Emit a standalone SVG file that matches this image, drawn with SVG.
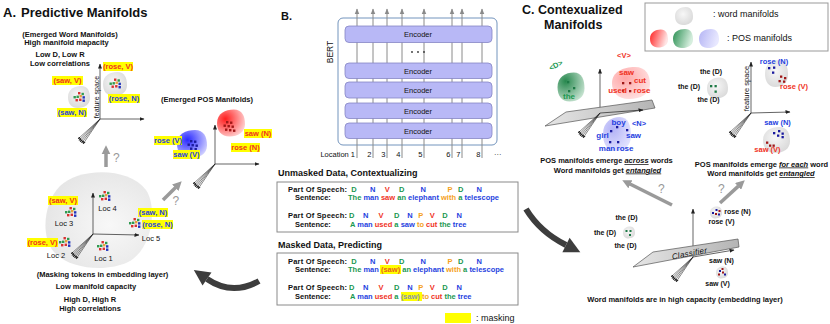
<svg xmlns="http://www.w3.org/2000/svg" xmlns:xlink="http://www.w3.org/1999/xlink" width="830" height="324" viewBox="0 0 830 324">
<defs>
<style>
text{font-family:"Liberation Sans",Arial,Helvetica,sans-serif;fill:#111}
.b{font-weight:bold}
.s7{font-size:7px}
.s75{font-size:7.5px}
.s8{font-size:8px}
.s9{font-size:9px}
.m{text-anchor:middle}
.e{text-anchor:end}
.R{fill:#f0321e}
.B{fill:#1f3fe0}
.G{fill:#1a9850}
.O{fill:#f5a11c}
.hl{fill:#ffff00}
.ax{stroke:#222;stroke-width:0.7;fill:none;marker-end:url(#ah)}
.q{fill:#999;font-size:12px}
.garr{stroke:#9a9a9a;stroke-width:3.5;fill:none;marker-end:url(#qa)}
.dk{stroke:#3d3d3d;stroke-width:6;fill:none}
.dkh{fill:#3d3d3d}
.loc{stroke:#8a8a8a;stroke-width:1;marker-end:url(#gh)}
.enc{fill:#b8b8f6;stroke:#8585c4;stroke-width:0.8}
.bx{fill:none;stroke:#8a8a8a;stroke-width:1}
.bl{stroke:#222;stroke-width:0.55;marker-end:url(#th)}
.dr{fill:#a01818}
.db{fill:#1a1a9e}
.dg{fill:#1e7a46}
.pl{fill:url(#gPlane);stroke:#555;stroke-width:0.7}
</style>
<marker id="ah" viewBox="0 0 10 10" refX="9" refY="5" markerWidth="5" markerHeight="5" markerUnits="userSpaceOnUse" orient="auto"><path d="M0,1 L10,5 L0,9 z" fill="#222"/></marker>
<marker id="gh" viewBox="0 0 10 10" refX="9" refY="5" markerWidth="6" markerHeight="6" markerUnits="userSpaceOnUse" orient="auto"><path d="M0,1 L10,5 L0,9 z" fill="#8a8a8a"/></marker>
<marker id="th" viewBox="0 0 10 10" refX="9" refY="5" markerWidth="3" markerHeight="3" markerUnits="userSpaceOnUse" orient="auto"><path d="M0,1 L10,5 L0,9 z" fill="#222"/></marker>
<marker id="qa" viewBox="0 0 10 10" refX="0.5" refY="5" markerWidth="2.6" markerHeight="2.6" orient="auto"><path d="M0,0 L10,5 L0,10 z" fill="#9a9a9a"/></marker>
<radialGradient id="gGray" cx="0.45" cy="0.4" r="0.65"><stop offset="0" stop-color="#f7f7f7"/><stop offset="1" stop-color="#d8d8d8"/></radialGradient>
<radialGradient id="gBig" cx="0.6" cy="0.55" r="0.6"><stop offset="0" stop-color="#f8f8f8"/><stop offset="1" stop-color="#e6e6e6"/></radialGradient>
<radialGradient id="gRed" cx="0.3" cy="0.35" r="0.8"><stop offset="0" stop-color="#ff1e1e"/><stop offset="1" stop-color="#ffdede"/></radialGradient>
<radialGradient id="gBlue" cx="0.35" cy="0.35" r="0.8"><stop offset="0" stop-color="#2a2aff"/><stop offset="1" stop-color="#e2e2ff"/></radialGradient>
<linearGradient id="lRed" x1="0" y1="0" x2="1" y2="0.3"><stop offset="0" stop-color="#ff2020"/><stop offset="1" stop-color="#ffe4e4"/></linearGradient>
<linearGradient id="lGreen" x1="0" y1="0" x2="1" y2="0.3"><stop offset="0" stop-color="#2a8f52"/><stop offset="1" stop-color="#d6eede"/></linearGradient>
<linearGradient id="lLav" x1="0" y1="0" x2="1" y2="0.3"><stop offset="0" stop-color="#b4b4f4"/><stop offset="1" stop-color="#e8e8ff"/></linearGradient>
<radialGradient id="gGreen" cx="0.3" cy="0.3" r="0.85"><stop offset="0" stop-color="#27884e"/><stop offset="1" stop-color="#d2e9da"/></radialGradient>
<radialGradient id="gPink" cx="0.35" cy="0.35" r="0.8"><stop offset="0" stop-color="#ffa6a6"/><stop offset="1" stop-color="#ffe8e8"/></radialGradient>
<radialGradient id="gLav" cx="0.35" cy="0.35" r="0.8"><stop offset="0" stop-color="#b2b2f6"/><stop offset="1" stop-color="#e8e8ff"/></radialGradient>
<linearGradient id="gPlane" x1="0" y1="0" x2="1" y2="0"><stop offset="0" stop-color="#e6e6e6"/><stop offset="1" stop-color="#b4b4b4"/></linearGradient>
<path id="blob" d="M-10,0 C-10,-7 -4,-10 2,-10 C8,-10 10,-5 10,1 C10,7 5,10 -1,10 C-7,10 -10,6 -10,0 Z"/>
<g id="cl">
<rect x="4.5" y="0" width="2.4" height="2.4" fill="#d83030"/>
<rect x="8" y="0.8" width="2.4" height="2.4" fill="#2f9a4f"/>
<rect x="0" y="4" width="2.4" height="2.4" fill="#2f9a4f"/>
<rect x="3" y="3.6" width="2.4" height="2.4" fill="#2f9a4f"/>
<rect x="6" y="3" width="2.4" height="2.4" fill="#e8a03c"/>
<rect x="9" y="4.2" width="2.4" height="2.4" fill="#2233bb"/>
<rect x="2" y="7" width="2.4" height="2.4" fill="#d83030"/>
<rect x="9" y="7.5" width="2.4" height="2.4" fill="#2233bb"/>
<rect x="5.6" y="6.6" width="2.4" height="2.4" fill="#d83030"/>
</g>
<g id="bun">
<line x1="0" y1="0" x2="-22" y2="20" class="bl"/>
<line x1="0" y1="0" x2="-21" y2="21.5" class="bl"/>
<line x1="0" y1="0" x2="-20" y2="23" class="bl"/>
<line x1="0" y1="0" x2="-18.5" y2="24" class="bl"/>
<line x1="0" y1="0" x2="-17" y2="25" class="bl"/>
</g>
</defs>
<rect width="830" height="324" fill="#fff"/>

<!-- ============ PANEL A ============ -->
<g id="titleA">
<text x="3" y="17" class="b" font-size="13">A.</text>
<text x="21" y="17" class="b" font-size="13">Predictive Manifolds</text>
</g>

<g id="wordManifolds">
<text x="70" y="36.5" class="b s75 m">(Emerged Word Manifolds)</text>
<text x="66.5" y="45" class="b s75 m">High manifold mapacity</text>
<text x="60" y="57" class="b s75 m">Low D, Low R</text>
<text x="60" y="66" class="b s75 m">Low correlations</text>
<use href="#blob" transform="translate(115,84) scale(1.2)" fill="url(#gGray)"/>
<use href="#blob" transform="translate(79,97) scale(1.1)" fill="url(#gGray)"/>
<use href="#cl" x="109.5" y="78.5"/>
<use href="#cl" x="73.5" y="92"/>
<line x1="100" y1="119" x2="100" y2="64" class="ax"/>
<line x1="100" y1="119" x2="144" y2="119" class="ax"/>
<use href="#bun" x="100" y="119"/>
<text transform="translate(99,97) rotate(-90)" class="s7 m">feature space</text>
<rect x="103" y="62" width="30" height="9" class="hl"/><text x="118" y="69" class="b s75 m R">(rose, V)</text>
<rect x="108" y="94" width="32" height="9" class="hl"/><text x="124" y="101" class="b s75 m B">(rose, N)</text>
<rect x="52" y="76" width="31" height="9" class="hl"/><text x="67.5" y="83" class="b s75 m R">(saw, V)</text>
<rect x="57" y="108" width="30" height="9" class="hl"/><text x="72" y="115" class="b s75 m B">(saw, N)</text>
</g>

<g id="posManifolds">
<text x="207" y="101.5" class="b s75 m">(Emerged POS Manifolds)</text>
<use href="#blob" transform="translate(231,123) scale(1.4,1.35)" fill="url(#gRed)"/>
<use href="#blob" transform="translate(192,144) scale(1.5,1.4)" fill="url(#gBlue)"/>
<g class="dr">
<rect x="226" y="121" width="2.4" height="2.4"/><rect x="230" y="121.5" width="2.4" height="2.4"/>
<rect x="223.5" y="124.5" width="2.4" height="2.4"/><rect x="227.5" y="125" width="2.4" height="2.4"/>
<rect x="231.5" y="125.5" width="2.4" height="2.4"/><rect x="225" y="128.5" width="2.4" height="2.4"/>
<rect x="229" y="129" width="2.4" height="2.4"/><rect x="233" y="129.5" width="2.4" height="2.4"/>
</g>
<g class="db">
<rect x="190" y="140" width="2.4" height="2.4"/><rect x="194" y="140.5" width="2.4" height="2.4"/>
<rect x="187.5" y="143.5" width="2.4" height="2.4"/><rect x="191.5" y="144" width="2.4" height="2.4"/>
<rect x="195.5" y="144.5" width="2.4" height="2.4"/><rect x="190" y="147.5" width="2.4" height="2.4"/>
<rect x="194.5" y="148" width="2.4" height="2.4"/>
</g>
<line x1="215" y1="164" x2="215" y2="125" class="ax"/>
<line x1="215" y1="164" x2="259" y2="164" class="ax"/>
<use href="#bun" x="215" y="164"/>
<rect x="244" y="129" width="28" height="9" class="hl"/><text x="258" y="136" class="b s75 m R">saw (N)</text>
<rect x="231" y="143" width="29" height="9" class="hl"/><text x="245.5" y="150" class="b s75 m R">rose (N)</text>
<rect x="154" y="136" width="28" height="9" class="hl"/><text x="168" y="143" class="b s75 m B">rose (V)</text>
<rect x="173" y="150" width="27" height="9" class="hl"/><text x="186.5" y="157" class="b s75 m B">saw (V)</text>
</g>

<g id="embeddingManifolds">
<path d="M60,186 C78,168 128,166 146,190 C158,208 152,250 128,262 C108,272 70,270 54,252 C40,236 44,202 60,186 Z" fill="url(#gBig)"/>
<line x1="93" y1="234" x2="93" y2="193" class="ax"/>
<line x1="93" y1="234" x2="139" y2="235" class="ax"/>
<use href="#bun" x="93" y="234"/>
<use href="#cl" x="99" y="191"/>
<use href="#cl" x="65" y="207"/>
<use href="#cl" x="59" y="237"/>
<use href="#cl" x="97" y="241"/>
<use href="#cl" x="129" y="218"/>
<text x="107.5" y="210.5" class="s75 m">Loc 4</text>
<text x="64" y="226" class="s75 m">Loc 3</text>
<text x="56" y="257.5" class="s75 m">Loc 2</text>
<text x="103.5" y="260.5" class="s75 m">Loc 1</text>
<text x="151" y="241" class="s75 m">Loc 5</text>
<rect x="48" y="196" width="30" height="9" class="hl"/><text x="63" y="203" class="b s75 m R">(saw, V)</text>
<rect x="27" y="238" width="31" height="9" class="hl"/><text x="42.5" y="245" class="b s75 m R">(rose, V)</text>
<rect x="138" y="208" width="30" height="9" class="hl"/><text x="153" y="215" class="b s75 m B">(saw, N)</text>
<rect x="142" y="220" width="31" height="9" class="hl"/><text x="157.5" y="227" class="b s75 m B">(rose, N)</text>
<text x="102.5" y="276.5" class="b s75 m">(Masking tokens in embedding layer)</text>
<text x="96" y="289" class="b s75 m">Low manifold capacity</text>
<text x="90" y="301.5" class="b s75 m">High D, High R</text>
<text x="90" y="311" class="b s75 m">High correlations</text>
</g>

<!-- ============ PANEL B ============ -->
<g id="titleB"><text x="281" y="20" class="b" font-size="11">B.</text></g>

<g id="bert">
<rect x="338" y="18" width="159" height="127" rx="5" fill="#fff" stroke="#7394bd" stroke-width="1"/>
<text transform="translate(333,52) rotate(-90)" class="m" font-size="8.5">BERT</text>
<g>
<line x1="357" y1="158" x2="357" y2="9" class="loc"/>
<line x1="373" y1="158" x2="373" y2="9" class="loc"/>
<line x1="387" y1="158" x2="387" y2="9" class="loc"/>
<line x1="402" y1="158" x2="402" y2="9" class="loc"/>
<line x1="424" y1="158" x2="424" y2="9" class="loc"/>
<line x1="452" y1="158" x2="452" y2="9" class="loc"/>
<line x1="462" y1="158" x2="462" y2="9" class="loc"/>
<line x1="482" y1="158" x2="482" y2="9" class="loc"/>
</g>
<g id="enc1"><rect x="345" y="26" width="147" height="16.5" rx="4" class="enc"/><text x="418" y="37" class="s75 m" fill="#333">Encoder</text></g>
<g id="dots"><circle cx="412" cy="52" r="0.9" fill="#333"/><circle cx="418" cy="52" r="0.9" fill="#333"/><circle cx="424" cy="52" r="0.9" fill="#333"/></g>
<g id="enc2"><rect x="345" y="63" width="147" height="15.5" rx="4" class="enc"/><text x="418" y="73.5" class="s75 m" fill="#333">Encoder</text></g>
<g id="enc3"><rect x="345" y="82" width="147" height="16" rx="4" class="enc"/><text x="418" y="92.5" class="s75 m" fill="#333">Encoder</text></g>
<g id="enc4"><rect x="345" y="103" width="147" height="15.5" rx="4" class="enc"/><text x="418" y="113.5" class="s75 m" fill="#333">Encoder</text></g>
<g id="enc5"><rect x="345" y="123" width="147" height="15.5" rx="4" class="enc"/><text x="418" y="133.5" class="s75 m" fill="#333">Encoder</text></g>
<g class="s75" fill="#333">
<text x="355" y="156.5" class="s75 e">Location 1</text>
<text x="371.5" y="156.5" class="s75 e">2</text>
<text x="385.5" y="156.5" class="s75 e">3</text>
<text x="400.5" y="156.5" class="s75 e">4</text>
<text x="422.5" y="156.5" class="s75 e">5</text>
<text x="450.5" y="156.5" class="s75 e">6</text>
<text x="460.5" y="156.5" class="s75 e">7</text>
<text x="480.5" y="156.5" class="s75 e">8</text>
<text x="494" y="156.5" class="s75">···</text>
</g>
</g>

<g id="unmaskedData">
<text x="278" y="175.5" class="b s9">Unmasked Data, Contextualizing</text>
<rect x="277" y="182" width="241" height="50" class="bx"/>
<text x="288" y="191.5" class="b s75" textLength="59" lengthAdjust="spacing">Part Of Speech:</text>
<g class="b s75 m">
<text x="354" y="191.5" class="G">D</text><text x="372.7" y="191.5" class="B">N</text><text x="387.3" y="191.5" class="R">V</text><text x="401.7" y="191.5" class="G">D</text><text x="423.3" y="191.5" class="B">N</text><text x="450" y="191.5" class="O">P</text><text x="460.7" y="191.5" class="G">D</text><text x="479.3" y="191.5" class="B">N</text>
</g>
<text x="295" y="199.5" class="b s75">Sentence:</text>
<text x="348" y="199.5" class="b s75"><tspan class="G">The</tspan> <tspan class="B">man</tspan> <tspan class="R">saw</tspan> <tspan class="G">an</tspan> <tspan class="B">elephant</tspan> <tspan class="O">with</tspan> <tspan class="G">a</tspan> <tspan class="B">telescope</tspan></text>
<text x="288" y="218" class="b s75" textLength="59" lengthAdjust="spacing">Part Of Speech:</text>
<g class="b s75 m">
<text x="351.7" y="218" class="G">D</text><text x="365.7" y="218" class="B">N</text><text x="381" y="218" class="R">V</text><text x="396.7" y="218" class="G">D</text><text x="410" y="218" class="B">N</text><text x="420.7" y="218" class="O">P</text><text x="432.3" y="218" class="R">V</text><text x="445" y="218" class="G">D</text><text x="459.3" y="218" class="B">N</text>
</g>
<text x="295" y="226.5" class="b s75">Sentence:</text>
<text x="350" y="226.5" class="b s75"><tspan class="G">A</tspan> <tspan class="B">man</tspan> <tspan class="R">used</tspan> <tspan class="G">a</tspan> <tspan class="B">saw</tspan> <tspan class="O">to</tspan> <tspan class="R">cut</tspan> <tspan class="G">the</tspan> <tspan class="B">tree</tspan></text>
</g>

<g id="maskedData">
<text x="278" y="247.5" class="b s9">Masked Data, Predicting</text>
<rect x="277" y="253" width="241" height="52" class="bx"/>
<rect x="380" y="265" width="21" height="9" class="hl"/>
<rect x="401" y="292" width="21" height="9" class="hl"/>
<text x="288" y="263.5" class="b s75" textLength="59" lengthAdjust="spacing">Part Of Speech:</text>
<g class="b s75 m">
<text x="354" y="263.5" class="G">D</text><text x="372.7" y="263.5" class="B">N</text><text x="387.3" y="263.5" class="R">V</text><text x="401.7" y="263.5" class="G">D</text><text x="423.3" y="263.5" class="B">N</text><text x="450" y="263.5" class="O">P</text><text x="460.7" y="263.5" class="G">D</text><text x="479.3" y="263.5" class="B">N</text>
</g>
<text x="295" y="271.5" class="b s75">Sentence:</text>
<text x="348" y="271.5" class="b s75"><tspan class="G">The</tspan> <tspan class="B">man</tspan> <tspan fill="#e8601c">(saw)</tspan> <tspan class="G">an</tspan> <tspan class="B">elephant</tspan> <tspan class="O">with</tspan> <tspan class="G">a</tspan> <tspan class="B">telescope</tspan></text>
<text x="288" y="290" class="b s75" textLength="59" lengthAdjust="spacing">Part Of Speech:</text>
<g class="b s75 m">
<text x="351.7" y="290" class="G">D</text><text x="365.7" y="290" class="B">N</text><text x="381" y="290" class="R">V</text><text x="396.7" y="290" class="G">D</text><text x="410" y="290" class="B">N</text><text x="420.7" y="290" class="O">P</text><text x="432.3" y="290" class="R">V</text><text x="445" y="290" class="G">D</text><text x="459.3" y="290" class="B">N</text>
</g>
<text x="295" y="298.5" class="b s75">Sentence:</text>
<text x="350" y="298.5" class="b s75"><tspan class="G">A</tspan> <tspan class="B">man</tspan> <tspan class="R">used</tspan> <tspan class="G">a</tspan> <tspan fill="#8a9aae">(saw)</tspan> <tspan class="O">to</tspan> <tspan class="R">cut</tspan> <tspan class="G">the</tspan> <tspan class="B">tree</tspan></text>
</g>

<g id="maskLegend">
<rect x="445" y="313" width="26" height="10" class="hl"/>
<text x="476" y="320.5" class="s9">: masking</text>
</g>

<!-- ============ PANEL C ============ -->
<g id="titleC">
<text x="522" y="13.5" class="b" font-size="12.5">C. Contexualized</text>
<text x="544" y="29" class="b" font-size="12.5">Manifolds</text>
</g>

<g id="legendC">
<rect x="645" y="3" width="183" height="48" fill="#fff" stroke="#999" stroke-width="1"/>
<use href="#blob" transform="translate(684,16) scale(0.9)" fill="url(#gGray)"/>
<text x="713" y="17" class="s9">: word manifolds</text>
<use href="#blob" transform="translate(659,38.5) scale(0.9)" fill="url(#lRed)"/>
<use href="#blob" transform="translate(683,38.5) scale(1,0.95)" fill="url(#lGreen)"/>
<use href="#blob" transform="translate(709,38.5) scale(1,0.95)" fill="url(#lLav)"/>
<text x="727" y="40.5" class="s9">: POS manifolds</text>
</g>

<g id="contextAcross">
<use href="#blob" transform="translate(571,87) scale(1.35,1.45)" fill="url(#gGreen)"/>
<use href="#blob" transform="translate(631,83) scale(1.9,1.6)" fill="url(#gPink)"/>
<line x1="600" y1="113" x2="600" y2="69" class="ax"/>
<polygon points="545,126 566,112 652,100 655,108" class="pl"/>
<line x1="600" y1="113" x2="643" y2="110" class="ax"/>
<use href="#bun" x="600" y="113"/>
<use href="#blob" transform="translate(617,134) scale(1.4,1.7)" fill="url(#gLav)"/>
<g class="dg"><rect x="567" y="81" width="2.3" height="2.3"/><rect x="573" y="87" width="2.3" height="2.3"/><rect x="568" y="90" width="2.3" height="2.3"/></g>
<g class="dr"><rect x="622" y="82" width="2.3" height="2.3"/><rect x="629" y="82" width="2.3" height="2.3"/><rect x="622" y="89.5" width="2.3" height="2.3"/><rect x="629" y="90" width="2.3" height="2.3"/></g>
<g class="db"><rect x="616" y="126" width="2.3" height="2.3"/><rect x="610" y="130" width="2.3" height="2.3"/><rect x="626" y="129" width="2.3" height="2.3"/><rect x="609" y="141" width="2.3" height="2.3"/><rect x="617" y="141" width="2.3" height="2.3"/></g>
<text transform="translate(557,67.5) rotate(-28)" class="b s75 m G">&lt;D&gt;</text>
<text x="569" y="99" class="b s8 m G">the</text>
<text x="624" y="57.5" class="b s75 m R">&lt;V&gt;</text>
<text x="626.5" y="75" class="b s8 m R">saw</text>
<text x="640" y="83" class="b s8 m R">cut</text>
<text x="617.5" y="93" class="b s8 m R">used</text>
<text x="642" y="93" class="b s8 m R">rose</text>
<text x="639" y="126" class="b s75 m B">&lt;N&gt;</text>
<text x="618.5" y="124.5" class="b s8 m B">boy</text>
<text x="602.5" y="138" class="b s8 m B">girl</text>
<text x="633.5" y="138" class="b s8 m B">saw</text>
<text x="607" y="151" class="b s8 m B">man</text>
<text x="625" y="151" class="b s8 m B">rose</text>
<text x="606.5" y="163" class="b s75 m">POS manifolds emerge <tspan font-style="italic" text-decoration="underline">across</tspan> words</text>
<text x="607.5" y="172.5" class="b s75 m">Word manifolds get <tspan font-style="italic" text-decoration="underline">entangled</tspan></text>
</g>

<g id="contextEach">
<use href="#blob" transform="translate(717.5,88) scale(1.05)" fill="url(#gGray)"/>
<use href="#blob" transform="translate(776.5,73.5) scale(1.15,1.35)" fill="url(#gGray)"/>
<use href="#blob" transform="translate(776.5,140) scale(1.35,1.3)" fill="url(#gGray)"/>
<line x1="751" y1="113" x2="751" y2="62" class="ax"/>
<line x1="751" y1="113" x2="790" y2="112" class="ax"/>
<use href="#bun" x="751" y="113"/>
<text transform="translate(749,88.5) rotate(-90)" class="s75 m">feature space</text>
<g class="dg"><rect x="710" y="85" width="2.3" height="2.3"/><rect x="714.5" y="85" width="2.3" height="2.3"/><rect x="714.5" y="90.5" width="2.3" height="2.3"/></g>
<g class="db"><rect x="768" y="67" width="2.3" height="2.3"/><rect x="773" y="66.5" width="2.3" height="2.3"/><rect x="772" y="71.5" width="2.3" height="2.3"/></g>
<g class="dr"><rect x="780" y="75.5" width="2.3" height="2.3"/><rect x="784" y="77" width="2.3" height="2.3"/><rect x="778.5" y="80" width="2.3" height="2.3"/><rect x="783" y="80.5" width="2.3" height="2.3"/></g>
<g class="db"><rect x="773" y="132" width="2.3" height="2.3"/><rect x="778" y="130" width="2.3" height="2.3"/><rect x="781.5" y="132.5" width="2.3" height="2.3"/><rect x="777" y="134.5" width="2.3" height="2.3"/><rect x="781.5" y="136" width="2.3" height="2.3"/></g>
<g class="dr"><rect x="766" y="141.5" width="2.3" height="2.3"/><rect x="769" y="144.5" width="2.3" height="2.3"/><rect x="772.5" y="144.5" width="2.3" height="2.3"/></g>
<text x="711" y="74" class="b s7 m">the (D)</text>
<text x="689" y="88.5" class="b s7 m">the (D)</text>
<text x="708.5" y="102" class="b s7 m">the (D)</text>
<text x="774" y="64" class="b s75 m B">rose (N)</text>
<text x="794" y="89" class="b s75 m R">rose (V)</text>
<text x="777.5" y="125" class="b s75 m B">saw (N)</text>
<text x="767.5" y="152" class="b s75 m R">saw (V)</text>
<text x="761.5" y="166.5" class="b s75 m">POS manifolds emerge <tspan font-style="italic" text-decoration="underline">for each</tspan> word</text>
<text x="761" y="176" class="b s75 m">Word manifolds get <tspan font-style="italic" text-decoration="underline">entangled</tspan></text>
</g>

<g id="contextEmbedding">
<line x1="693" y1="257" x2="693" y2="209" class="ax"/>
<polygon points="633,267 653,252 738,239 739,247" class="pl"/>
<line x1="693" y1="257" x2="734" y2="250" class="ax"/>
<use href="#bun" x="693" y="257"/>
<text transform="translate(690,256) rotate(-11)" class="s8 m" font-style="italic" fill="#555" letter-spacing="0.3">Classifier</text>
<use href="#blob" transform="translate(629,232.5) scale(0.6)" fill="url(#gGray)"/>
<use href="#blob" transform="translate(716,212.5) scale(0.6)" fill="url(#gGray)"/>
<use href="#blob" transform="translate(722,272.5) scale(0.6)" fill="url(#gGray)"/>
<g class="dg"><rect x="625.5" y="230" width="2" height="2"/><rect x="629.5" y="230" width="2" height="2"/><rect x="629" y="234" width="2" height="2"/></g>
<g class="db"><rect x="712" y="212" width="2" height="2"/><rect x="715.5" y="209" width="2" height="2"/><rect x="718" y="213.5" width="2" height="2"/></g>
<g class="dr"><rect x="715" y="213" width="2" height="2"/><rect x="718.5" y="210" width="2" height="2"/></g>
<g class="db"><rect x="719" y="270" width="2" height="2"/><rect x="724" y="273.5" width="2" height="2"/></g>
<g class="dr"><rect x="721.5" y="268" width="2" height="2"/><rect x="718" y="273.5" width="2" height="2"/><rect x="722" y="271.5" width="2" height="2"/></g>
<text x="626.5" y="219.5" class="b s7 m">the (D)</text>
<text x="605" y="234.5" class="b s7 m">the (D)</text>
<text x="625.5" y="248" class="b s7 m">the (D)</text>
<text x="737.5" y="214" class="b s7 m">rose (N)</text>
<text x="721.5" y="224" class="b s7 m">rose (V)</text>
<text x="721.5" y="262.5" class="b s7 m">saw (N)</text>
<text x="717.5" y="286" class="b s7 m">saw (V)</text>
<text x="685" y="302" class="b s75 m">Word manifolds are in high capacity (embedding layer)</text>
</g>

<!-- ============ CONNECTORS ============ -->
<g id="connectors">
<line x1="106" y1="167" x2="106" y2="154" class="garr"/>
<text x="113" y="162" class="q">?</text>
<line x1="163" y1="200" x2="175.6" y2="187.4" class="garr"/>
<text x="172.5" y="204.5" class="q">?</text>
<line x1="672" y1="205" x2="630" y2="184" class="garr"/>
<text x="658" y="193" class="q">?</text>
<line x1="720" y1="203" x2="738.4" y2="186.1" class="garr"/>
<text x="718" y="193" class="q">?</text>
<path d="M259,281 Q232,296 207,279" class="dk"/>
<polygon points="193.8,270 211.5,272.4 202.5,285.6" class="dkh"/>
<path d="M526,209 Q540,232 566,245" class="dk"/>
<polygon points="580.3,252.2 562.4,252.2 569.6,237.8" class="dkh"/>
</g>
</svg>
